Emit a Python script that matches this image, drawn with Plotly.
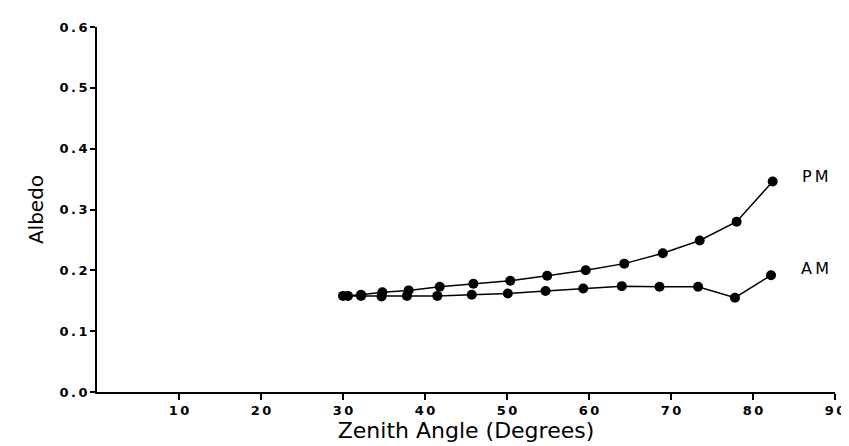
import plotly.graph_objects as go

# Data
pm_zenith = [30.0, 32.2, 34.8, 38.0, 41.8, 45.9, 50.4, 54.9, 59.6, 64.3, 69.0, 73.5, 78.0, 82.4]
pm_albedo = [0.158, 0.160, 0.164, 0.167, 0.173, 0.178, 0.183, 0.191, 0.200, 0.211, 0.228, 0.249, 0.280, 0.346]

am_zenith = [30.6, 32.2, 34.7, 37.8, 41.5, 45.7, 50.1, 54.7, 59.3, 64.0, 68.6, 73.3, 77.8, 82.2]
am_albedo = [0.158, 0.158, 0.157, 0.158, 0.158, 0.160, 0.162, 0.166, 0.170, 0.174, 0.173, 0.173, 0.155, 0.192]

x_ticks = [10, 20, 30, 40, 50, 60, 70, 80, 90]
y_ticks = [0.0, 0.1, 0.2, 0.3, 0.4, 0.5, 0.6]

series_labels = ["PM", "AM"]
label_pos_x = [87.6, 87.6]
label_pos_y = [0.354, 0.203]

FONT = "DejaVu Sans"
TS = "\u2009"  # thin space to mimic the wide letter spacing of the original


def spaced(s):
    return TS.join(list(s))


fig = go.Figure()
for xs, ys, name in [(pm_zenith, pm_albedo, "PM"), (am_zenith, am_albedo, "AM")]:
    fig.add_trace(go.Scatter(
        x=xs, y=ys, mode="lines+markers", name=name,
        line=dict(color="black", width=1.5),
        marker=dict(color="black", size=10),
        showlegend=False,
    ))

for lab, lx, ly in zip(series_labels, label_pos_x, label_pos_y):
    fig.add_annotation(x=lx, y=ly, text=spaced(lab), showarrow=False,
                       font=dict(family=FONT, size=16, color="black"),
                       xref="x", yref="y")

fig.update_layout(
    width=849, height=446,
    margin=dict(l=89, r=16, t=18, b=62),
    plot_bgcolor="white", paper_bgcolor="white",
    font=dict(family=FONT, color="black"),
)
fig.update_xaxes(
    range=[0, 90], tickvals=x_ticks, ticktext=[spaced(str(v)) for v in x_ticks],
    showgrid=False, zeroline=False, showline=True, linecolor="black", linewidth=1.5,
    ticks="outside", ticklen=6, tickwidth=1.5, tickcolor="black",
    tickfont=dict(family=FONT, size=13, weight="bold"),
    title=dict(text="Zenith Angle (Degrees)", font=dict(family=FONT, size=22), standoff=5),
)
fig.update_yaxes(
    range=[0, 0.6], tickvals=y_ticks, ticktext=[spaced(f"{v:.1f}") for v in y_ticks],
    showgrid=False, zeroline=False, showline=True, linecolor="black", linewidth=1.5,
    ticks="outside", ticklen=5, tickwidth=1.5, tickcolor="black",
    tickfont=dict(family=FONT, size=13, weight="bold"),
    title=dict(text="Albedo", font=dict(family=FONT, size=20), standoff=10),
)

fig.write_html("out.html")
